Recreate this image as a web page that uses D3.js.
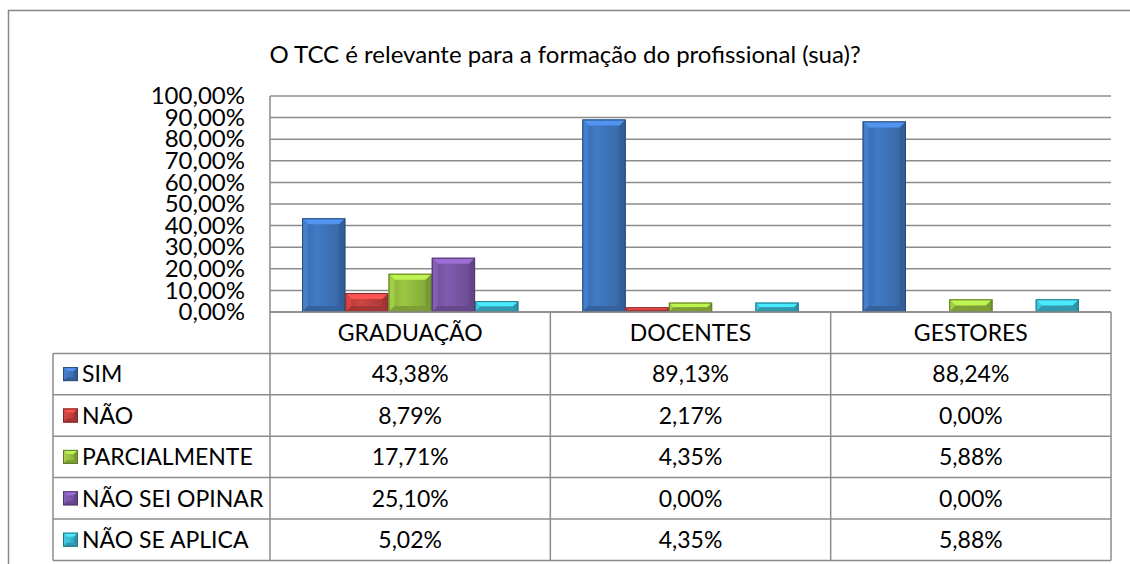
<!DOCTYPE html>
<html>
<head>
<meta charset="utf-8">
<script src="https://cdn.jsdelivr.net/npm/d3@7"></script>
<style>
  body { margin: 0; background: #fff; }
  svg text { font-family: Lato, "Open Sans", sans-serif; fill: #000; }
</style>
</head>
<body>
<div id="chart"></div>
<script>
// data
const categories = ['GRADUAÇÃO', 'DOCENTES', 'GESTORES'];
const series = ['SIM', 'NÃO', 'PARCIALMENTE', 'NÃO SEI OPINAR', 'NÃO SE APLICA'];
const sim = [43.38, 89.13, 88.24];
const nao = [8.79, 2.17, 0.00];
const parcialmente = [17.71, 4.35, 5.88];
const naoSeiOpinar = [25.10, 0.00, 0.00];
const naoSeAplica = [5.02, 4.35, 5.88];
const yTicks = [0, 10, 20, 30, 40, 50, 60, 70, 80, 90, 100];
const title = 'O TCC é relevante para a formação do profissional (sua)?';

const values = [sim, nao, parcialmente, naoSeiOpinar, naoSeAplica];
const colors = ['#3f74bb', '#c3413f', '#94bd3f', '#7a56a6', '#3ab6cf'];

const width = 1130, height = 564;
const plot = {left: 270, right: 1111, top: 96, bottom: 312};
const rowH = 41.4, legendLeft = 53;

const fmt = v => v.toFixed(2).replace('.', ',') + '%';

let svg = d3.select('#chart').append('svg')
  .attr('width', width).attr('height', height);

let defs = svg.append('defs');
colors.forEach((c, i) => {
  let g = defs.append('linearGradient').attr('id', 'grad' + i)
    .attr('x1', 0).attr('x2', 1).attr('y1', 0).attr('y2', 0);
  g.append('stop').attr('offset', '0%').attr('stop-color', d3.color(c).darker(0.3));
  g.append('stop').attr('offset', '35%').attr('stop-color', d3.color(c).brighter(0.15));
  g.append('stop').attr('offset', '100%').attr('stop-color', d3.color(c).darker(0.45));
});

// outer border (right and bottom fall outside the picture)
svg.append('rect')
  .attr('x', 8.5).attr('y', 10.5)
  .attr('width', 1200).attr('height', 700)
  .attr('fill', 'none').attr('stroke', '#878787').attr('stroke-width', 1.5);

svg.append('text')
  .attr('x', 565).attr('y', 63)
  .attr('text-anchor', 'middle')
  .style('font-size', '24px')
  .text(title);

/*
 * scales
 */
let y = d3.scaleLinear().domain([0, 100]).range([plot.bottom, plot.top]);
let x = d3.scaleBand().domain(categories).range([plot.left, plot.right]);
let xs = d3.scaleBand().domain(series)
  .range([0, x.bandwidth()]).paddingInner(0).paddingOuter(0.74);

// gridlines
svg.append('g').selectAll('line')
  .data(yTicks)
  .join('line')
  .attr('x1', plot.left).attr('x2', plot.right)
  .attr('y1', d => y(d)).attr('y2', d => y(d))
  .attr('stroke', '#8c8c8c').attr('stroke-width', 1.5);

// y axis labels
let yAxis = d3.axisLeft(y).tickValues(yTicks).tickSize(0).tickPadding(25)
  .tickFormat(d => fmt(d));
svg.append('g')
  .attr('transform', `translate(${plot.left},0)`)
  .call(yAxis)
  .call(g => g.select('.domain').remove())
  .call(g => g.selectAll('text')
    .style('font-family', 'Lato, sans-serif')
    .style('font-size', '24px')
    .attr('fill', '#000'));

/*
 * bars
 */
function bevel(sel, bw, bh, color, b) {
  let c = d3.color(color);
  b = Math.min(b, bh / 2, bw / 2);
  sel.append('rect')
    .attr('width', bw).attr('height', bh)
    .attr('fill', `url(#grad${colors.indexOf(color)})`);
  sel.append('path')
    .attr('d', `M0,0H${bw}L${bw - b},${b}H${b}Z`)
    .attr('fill', c.brighter(0.7));
  sel.append('path')
    .attr('d', `M0,0L${b},${b}V${bh - b}L0,${bh}Z`)
    .attr('fill', c.brighter(0.25));
  sel.append('path')
    .attr('d', `M${bw},0L${bw - b},${b}V${bh - b}L${bw},${bh}Z`)
    .attr('fill', c.darker(0.6));
  sel.append('path')
    .attr('d', `M0,${bh}L${b},${bh - b}H${bw - b}L${bw},${bh}Z`)
    .attr('fill', c.darker(0.5));
  sel.append('rect')
    .attr('x', 0.5).attr('y', 0.5)
    .attr('width', Math.max(bw - 1, 0)).attr('height', Math.max(bh - 1, 0))
    .attr('fill', 'none').attr('stroke', c.darker(1.2)).attr('stroke-width', 1);
}

let barData = [];
categories.forEach((cat, ci) => {
  series.forEach((s, si) => {
    barData.push({cat, s, v: values[si][ci], color: colors[si]});
  });
});

svg.append('g').selectAll('g.bar')
  .data(barData.filter(d => d.v > 0))
  .join('g')
  .attr('class', 'bar')
  .attr('transform', d => `translate(${x(d.cat) + xs(d.s)},${y(d.v)})`)
  .each(function(d) {
    bevel(d3.select(this), xs.bandwidth(), y(0) - y(d.v), d.color, 6);
  });

/*
 * data table
 */
let table = svg.append('g');
let tableBottom = plot.bottom + rowH * (series.length + 1);
let lineStyle = l => l.attr('stroke', '#8c8c8c').attr('stroke-width', 1.5).attr('fill', 'none');

// horizontal lines
table.append('line').call(lineStyle)
  .attr('x1', plot.left).attr('x2', plot.right)
  .attr('y1', plot.bottom).attr('y2', plot.bottom);
d3.range(series.length + 1).forEach(i => {
  let yy = plot.bottom + rowH * (i + 1);
  table.append('line').call(lineStyle)
    .attr('x1', legendLeft).attr('x2', plot.right)
    .attr('y1', yy).attr('y2', yy);
});
// vertical lines
table.append('line').call(lineStyle)
  .attr('x1', legendLeft).attr('x2', legendLeft)
  .attr('y1', plot.bottom + rowH).attr('y2', tableBottom);
table.append('line').call(lineStyle)
  .attr('x1', plot.left).attr('x2', plot.left)
  .attr('y1', plot.top).attr('y2', tableBottom);
categories.forEach(cat => {
  let xx = x(cat) + x.bandwidth();
  table.append('line').call(lineStyle)
    .attr('x1', xx).attr('x2', xx)
    .attr('y1', plot.bottom).attr('y2', tableBottom);
});

// header
table.selectAll('text.cat')
  .data(categories)
  .join('text')
  .attr('class', 'cat')
  .attr('x', d => x(d) + x.bandwidth() / 2)
  .attr('y', plot.bottom + rowH / 2)
  .attr('dy', '0.36em')
  .attr('text-anchor', 'middle')
  .style('font-size', '23px')
  .text(d => d);

// rows
series.forEach((s, si) => {
  let yc = plot.bottom + rowH * (si + 1) + rowH / 2;
  let key = table.append('g').attr('transform', `translate(63,${yc - 7})`);
  bevel(key, 15, 14, colors[si], 4);
  table.append('text')
    .attr('x', 82).attr('y', yc).attr('dy', '0.36em')
    .style('font-size', '23px')
    .text(s);
  categories.forEach((cat, ci) => {
    table.append('text')
      .attr('x', x(cat) + x.bandwidth() / 2)
      .attr('y', yc).attr('dy', '0.36em')
      .attr('text-anchor', 'middle')
      .style('font-size', '23px')
      .text(fmt(values[si][ci]));
  });
});
</script>
</body>
</html>
